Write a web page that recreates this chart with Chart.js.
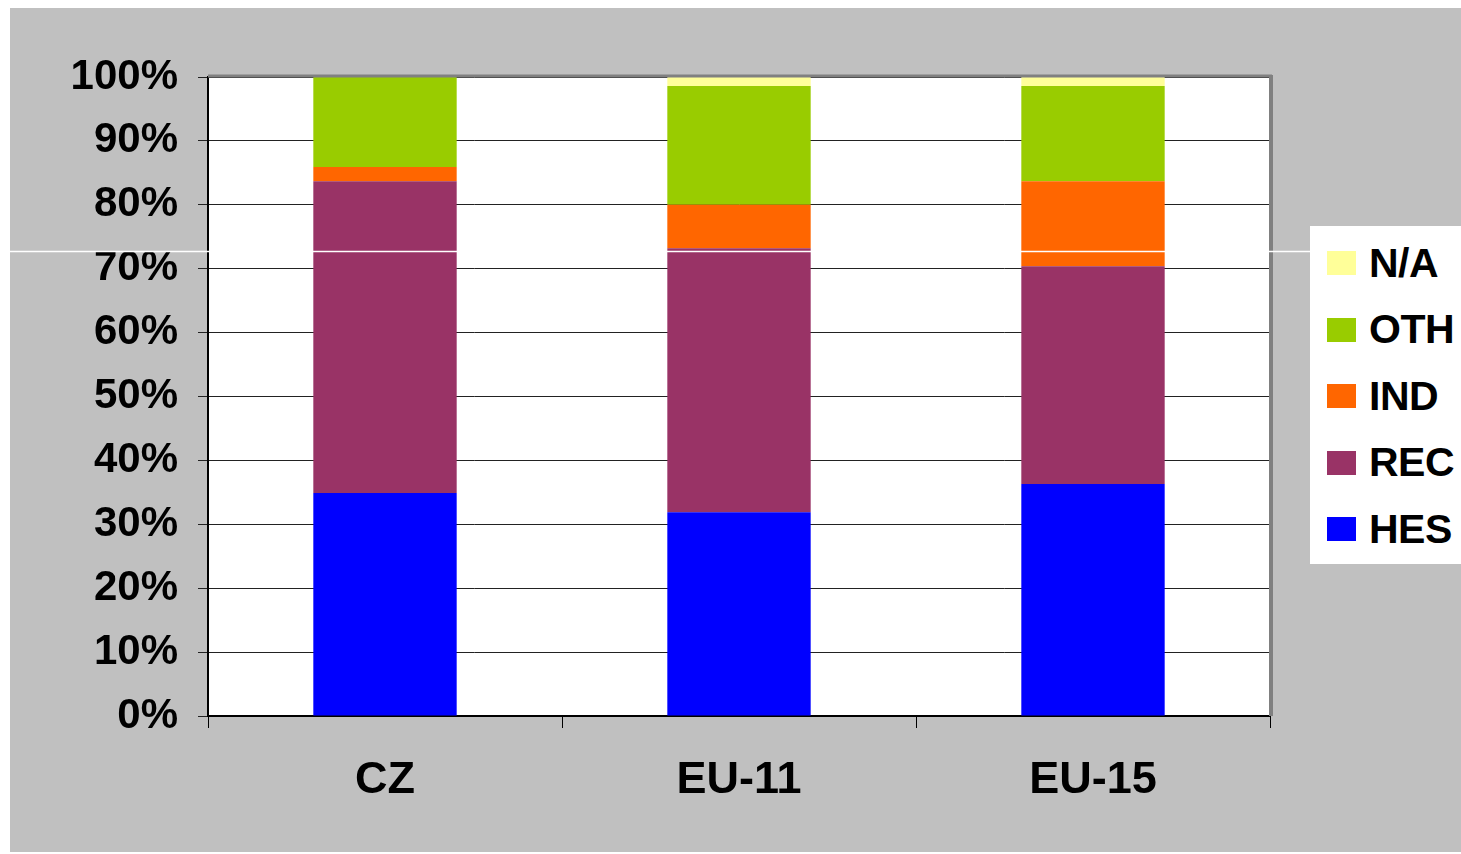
<!DOCTYPE html>
<html>
<head>
<meta charset="utf-8">
<script src="https://cdn.jsdelivr.net/npm/chart.js@4.4.0/dist/chart.umd.min.js"></script>
<style>
  body { margin: 0; background: #fff; width: 1461px; height: 854px; position: relative; overflow: hidden; }
  #frame { position: absolute; left: 10px; top: 8px; width: 1451px; height: 844px; background: #c0c0c0; }
  #legend { position: absolute; left: 1310px; top: 226px; width: 151px; height: 338px; background: #fff; }
  .row { position: absolute; left: 17px; height: 40px; display: flex; align-items: center;
         font: bold 41px "Liberation Sans", Arial, sans-serif; color: #000; letter-spacing: -0.5px; }
  .mark { width: 29px; height: 24px; margin-right: 13px; }
</style>
</head>
<body>
<div id="frame"><canvas id="chart"></canvas></div>
<div id="legend"></div>
<script>
// chart values (percent of total)
const categories = ['CZ', 'EU-11', 'EU-15'];
const hes = [34.9, 31.9, 36.3];
const rec = [48.8, 41.3, 34.1];
const ind = [2.2, 6.8, 13.3];
const oth = [14.1, 18.6, 14.9];
const na  = [0, 1.4, 1.4];

const seriesNames = ['HES', 'REC', 'IND', 'OTH', 'N/A'];
const seriesColors = ['#0000ff', '#993366', '#ff6600', '#99cc00', '#ffff99'];
const seriesData = [hes, rec, ind, oth, na];

const FONT = '"Liberation Sans", Arial, sans-serif';

// white plot area + grey top/right frame + the stray white line in the original
const framePlugin = {
  id: 'framePlugin',
  beforeDraw(chart) {
    const { ctx, chartArea: a } = chart;
    ctx.save();
    ctx.fillStyle = '#fff';
    ctx.fillRect(a.left, a.top, a.right - a.left, a.bottom - a.top);
    ctx.restore();
  },
  afterDraw(chart) {
    const { ctx, chartArea: a } = chart;
    ctx.save();
    ctx.strokeStyle = '#808080';
    ctx.lineWidth = 3;
    ctx.beginPath();
    ctx.moveTo(a.left, a.top - 1);
    ctx.lineTo(a.right + 2, a.top - 1);
    ctx.stroke();
    ctx.lineWidth = 4;
    ctx.beginPath();
    ctx.moveTo(a.right + 1, a.top - 2);
    ctx.lineTo(a.right + 1, a.bottom);
    ctx.stroke();
    ctx.strokeStyle = '#fff';
    ctx.lineWidth = 1.5;
    ctx.beginPath();
    ctx.moveTo(0, 243.5);
    ctx.lineTo(1300, 243.5);
    ctx.stroke();
    ctx.restore();
  }
};

new Chart(document.getElementById('chart'), {
  type: 'bar',
  data: {
    labels: categories,
    datasets: seriesNames.map((name, i) => ({
      label: name,
      data: seriesData[i],
      backgroundColor: seriesColors[i],
      borderWidth: 0,
      categoryPercentage: 1,
      barPercentage: 0.405
    }))
  },
  options: {
    responsive: true,
    maintainAspectRatio: false,
    animation: false,
    layout: { padding: { left: 0, top: 69, right: 191, bottom: 0 } },
    plugins: { legend: { display: false }, tooltip: { enabled: false } },
    scales: {
      x: {
        stacked: true,
        afterFit: s => { s.height = 136; },
        grid: { offset: true, drawOnChartArea: false, drawTicks: true, tickLength: 12, color: '#000', lineWidth: 1 },
        border: { display: true, color: '#000', width: 2 },
        ticks: { color: '#000', padding: 26, font: { family: FONT, size: 45, weight: 'bold' } }
      },
      y: {
        stacked: true,
        min: 0,
        max: 100,
        afterFit: s => { s.width = 198; },
        grid: { color: '#222', lineWidth: 1, tickLength: 10 },
        border: { display: true, color: '#000', width: 2 },
        ticks: {
          stepSize: 10,
          color: '#000',
          padding: 20,
          font: { family: FONT, size: 42, weight: 'bold' },
          callback: v => v + '%'
        }
      }
    }
  },
  plugins: [framePlugin]
});

// legend, top item is the last series
const legend = document.getElementById('legend');
seriesNames.slice().reverse().forEach((name, i) => {
  const idx = seriesNames.length - 1 - i;
  const row = document.createElement('div');
  row.className = 'row';
  row.style.top = (17 + i * 66.5) + 'px';
  row.innerHTML = '<div class="mark" style="background:' + seriesColors[idx] + '"></div><span>' + name + '</span>';
  legend.appendChild(row);
});
</script>
</body>
</html>
